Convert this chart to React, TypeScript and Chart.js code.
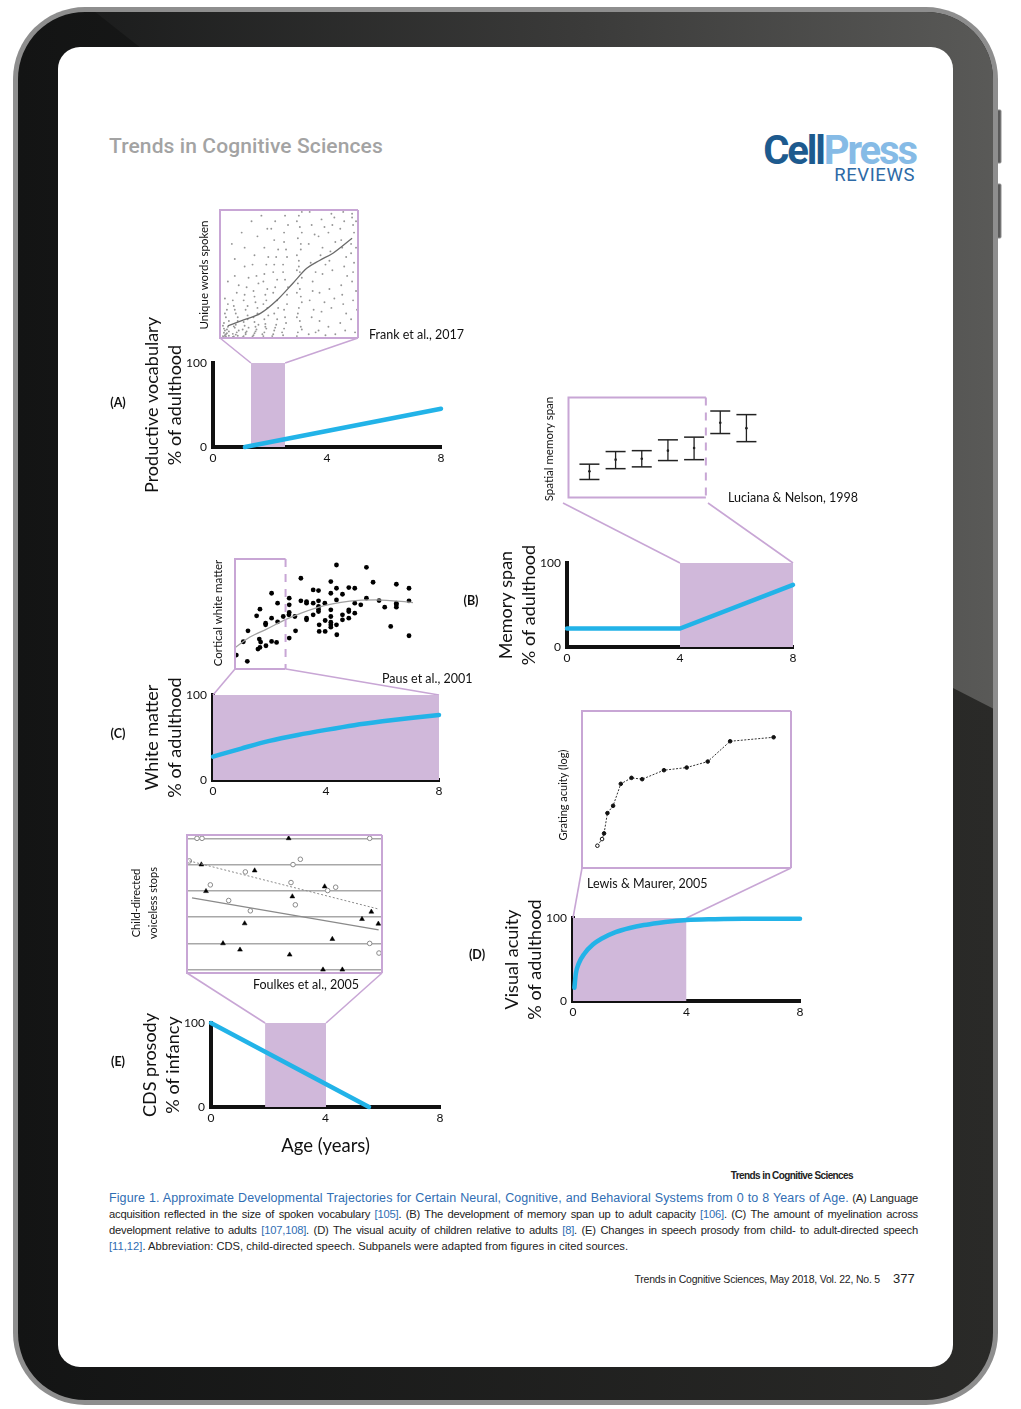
import React, { useEffect, useRef } from "react";
import { Chart, registerables } from "chart.js";

Chart.register(...registerables);

const FONT = "Lato, 'Open Sans', 'DejaVu Sans', sans-serif";
const SANS = "'Liberation Sans', Arial, sans-serif";
const BLUE = "#22b3e8";
const BAND = "#d0b8da";
const BOX_LINE = "#c8a6d5";
const AXIS = "#111111";

// ---------- main panel data (age in years, % of adulthood / infancy) ----------
const AGE_TICKS = [0, 4, 8];
const PCT_TICKS = [0, 100];

const VOCAB_AGE = [1.12, 8];
const VOCAB_PCT = [0, 45.5];
const VOCAB_BAND = [1.33, 2.53];

const MEMORY_AGE = [0, 4, 8];
const MEMORY_PCT = [22, 22, 74];
const MEMORY_BAND = [4, 8];

const MYELIN_AGE = [0, 1, 2, 3, 4, 5, 6, 7, 8];
const MYELIN_PCT = [27.5, 37, 46, 53, 59, 64.5, 69, 73, 76.5];
const MYELIN_BAND = [0, 8];

const ACUITY_AGE = [0.05, 0.1, 0.2, 0.4, 0.7, 1, 1.5, 2, 2.5, 3, 3.5, 4, 5, 6, 8];
const ACUITY_PCT = [16, 33, 45, 57, 68, 75, 83, 88, 91.5, 94, 96, 97.5, 98.5, 99, 99];
const ACUITY_BAND = [0, 4];

const PROSODY_AGE = [0, 5.52];
const PROSODY_PCT = [100, 0];
const PROSODY_BAND = [1.89, 4.02];

// ---------- inset data ----------
// (A) Frank et al. 2017: age (months) vs unique words spoken
const VOCAB_POINTS: [number, number][] = [
  [16.4, 5], [16.5, 15], [16.7, 25], [16.5, 40], [16.8, 60], [16.4, 80], [16.6, 110], [16.7, 150], [16.5, 210], [16.8, 300], [16.6, 20], [16.4, 50], [16.3, 10], [16.9, 35],
  [16.3, 3], [16.6, 8], [16.9, 12], [16.4, 28], [16.7, 45], [16.3, 65], [16.9, 90], [16.5, 130], [16.8, 180],
  [17.4, 8], [17.7, 30], [17.5, 55], [17.8, 90], [17.6, 130], [17.4, 170], [17.7, 240], [17.5, 330], [17.8, 12], [17.6, 70], [17.5, 420], [17.3, 22],
  [17.3, 5], [17.6, 18], [17.9, 40], [17.4, 62], [17.8, 110], [17.5, 150], [17.3, 200], [17.9, 280], [17.2, 500],
  [18.4, 10], [18.7, 35], [18.5, 65], [18.8, 100], [18.6, 150], [18.4, 200], [18.7, 270], [18.5, 380], [18.6, 20], [18.8, 120], [18.5, 480], [18.3, 45],
  [18.3, 4], [18.6, 28], [18.9, 55], [18.4, 85], [18.8, 170], [18.5, 230], [18.9, 320], [18.2, 560],
  [19.4, 15], [19.7, 45], [19.5, 85], [19.8, 130], [19.6, 190], [19.4, 250], [19.7, 330], [19.5, 440], [19.6, 60], [19.8, 540], [19.5, 25],
  [19.3, 8], [19.6, 35], [19.9, 70], [19.4, 110], [19.8, 160], [19.5, 220], [19.9, 290], [19.3, 390], [19.2, 620],
  [20.4, 10], [20.7, 50], [20.5, 100], [20.8, 160], [20.6, 230], [20.4, 300], [20.7, 390], [20.5, 480], [20.6, 75], [20.8, 580], [20.5, 30], [20.7, 200],
  [20.3, 20], [20.6, 60], [20.9, 120], [20.4, 180], [20.8, 260], [20.5, 340], [20.9, 430], [20.2, 650],
  [21.4, 20], [21.7, 70], [21.5, 130], [21.8, 200], [21.6, 270], [21.4, 350], [21.7, 430], [21.5, 520], [21.6, 620], [21.8, 100], [21.5, 40],
  [21.3, 10], [21.6, 55], [21.9, 160], [21.4, 240], [21.8, 310], [21.5, 390], [21.9, 470], [21.2, 580],
  [22.4, 15], [22.7, 80], [22.5, 150], [22.8, 230], [22.6, 310], [22.4, 390], [22.7, 470], [22.5, 560], [22.6, 650], [22.8, 180], [22.5, 50],
  [22.3, 30], [22.6, 110], [22.9, 270], [22.4, 350], [22.8, 430], [22.5, 510], [22.9, 600],
  [23.9, 30], [24.1, 90], [24.0, 160], [24.2, 220], [23.9, 290], [24.1, 350], [24.0, 410], [24.2, 470], [23.9, 530], [24.1, 590], [24.0, 650], [24.2, 60], [23.9, 130], [24.1, 260], [24.0, 380], [24.2, 500],
  [23.8, 10], [24.3, 45], [23.8, 110], [24.3, 190], [23.8, 240], [24.3, 320], [23.8, 440], [24.3, 560], [23.8, 620], [24.3, 670], [23.8, 360],
  [25.0, 20], [25.3, 110], [25.1, 200], [25.4, 300], [25.2, 400], [25.0, 500], [25.3, 600], [25.1, 670], [25.4, 250], [25.5, 150], [25.7, 350], [25.6, 550], [25.7, 30],
  [26.0, 40], [26.3, 140], [26.1, 240], [26.4, 340], [26.2, 440], [26.0, 540], [26.3, 630], [26.1, 90], [26.4, 480], [26.6, 190], [26.7, 390], [26.6, 590], [26.7, 15],
  [27.0, 60], [27.3, 160], [27.1, 260], [27.4, 360], [27.2, 460], [27.0, 560], [27.3, 660], [27.1, 410], [27.4, 600], [27.6, 210], [27.7, 510], [27.6, 640], [27.7, 20],
  [28.2, 80], [28.5, 180], [28.3, 280], [28.6, 380], [28.4, 480], [28.2, 580], [28.5, 670], [28.3, 520], [28.6, 620], [28.4, 230], [28.8, 130], [28.9, 330], [28.8, 430], [28.7, 40],
  [29.3, 100], [29.5, 200], [29.4, 300], [29.6, 400], [29.3, 500], [29.5, 600], [29.4, 660], [29.6, 560], [29.3, 450], [29.5, 350], [29.4, 640], [29.8, 250], [29.8, 480], [29.8, 620], [29.9, 150], [29.7, 30],
];
const VOCAB_FIT_MONTHS = [16.8, 18.4, 20.1, 21.8, 23.4, 24.8, 26.1, 27.5, 29.4];
const VOCAB_FIT_WORDS = [64, 96, 131, 202, 291, 370, 412, 452, 530];

// (B) Luciana & Nelson 1998: spatial memory span per age group
const SPAN_GROUP = [1, 2, 3, 4, 5, 6, 7];
const SPAN_MEAN = [4.6, 5.9, 6.0, 6.9, 7.2, 10.0, 9.4];
const SPAN_LOW = [3.7, 4.9, 5.1, 5.8, 5.9, 8.8, 7.9];
const SPAN_HIGH = [5.4, 6.8, 6.9, 8.1, 8.4, 11.3, 10.9];

// (C) Paus et al. 2001: cortical white matter (reading units)
const WM_X = [40.9, 44.2, 43.0, 44.4, 47.0, 48.0, 47.8, 48.2, 47.4, 48.0, 49.7, 49.7, 49.8, 51.5, 51.5, 51.5, 53.0, 53.3, 53.3, 55.0, 56.8, 56.8, 56.8, 56.7, 56.8, 58.5, 58.7, 60.3, 60.3, 62.0, 62.0, 62.0, 62.0, 64.0, 64.0, 64.0, 65.6, 65.6, 65.6, 65.6, 65.6, 65.8, 65.8, 67.5, 67.6, 67.6, 69.3, 69.3, 69.3, 69.3, 69.3, 69.3, 69.3, 71.0, 71.0, 71.0, 71.0, 71.1, 72.8, 72.8, 72.8, 74.7, 74.7, 74.7, 74.7, 76.5, 76.5, 76.5, 78.3, 80.0, 80.0, 82.0, 83.8, 85.5, 87.3, 89.0, 89.0, 89.0, 89.0, 92.8, 92.8, 92.8];
const WM_Y = [8.4, 6.5, 12.4, 15.7, 20.2, 22.2, 13.2, 12.3, 10.2, 10.7, 18.0, 17.5, 11.2, 27.0, 19.5, 12.5, 12.2, 24.0, 18.4, 20.0, 25.5, 23.5, 21.2, 20.5, 13.5, 20.0, 15.7, 31.5, 24.7, 24.5, 24.0, 19.5, 19.0, 28.0, 24.0, 20.5, 27.8, 24.7, 23.0, 22.2, 21.5, 17.5, 15.5, 24.0, 18.8, 15.5, 30.5, 27.0, 22.0, 20.0, 18.3, 17.5, 16.8, 35.5, 28.5, 25.0, 17.5, 14.5, 26.7, 20.5, 19.0, 28.7, 22.0, 21.5, 19.5, 28.5, 24.0, 21.0, 23.5, 34.8, 25.5, 30.3, 24.8, 22.8, 17.0, 29.7, 24.0, 23.5, 22.8, 28.5, 24.7, 14.2];
const WM_FIT_X = [40.5, 45, 50, 56, 65, 75, 83, 94];
const WM_FIT_Y = [10.6, 13.8, 16.2, 19.2, 22.6, 24.6, 25.0, 24.2];

// (D) Lewis & Maurer 2005: grating acuity (log, reading units)
const GRATING_X = [41.3, 42.7, 43.3, 44.3, 46.0, 48.3, 51.5, 54.7, 61.2, 68.0, 74.3, 81.0, 94.0];
const GRATING_Y = [6.2, 8.2, 9.9, 16.0, 18.2, 24.8, 26.6, 26.2, 28.9, 29.7, 31.5, 37.6, 38.8];

// (E) Foulkes et al. 2005: child-directed voiceless stops
const VOT_CIRCLES: [number, number][] = [[29, 40.5], [30.5, 40.5], [80.8, 40.5], [26.7, 33.7], [57.8, 32.6], [60, 34.2], [43.5, 30.4], [33, 26.5], [57.2, 27.2], [68.2, 24.8], [70.6, 25.8], [38.5, 21.8], [58.5, 20.5], [45, 18.7], [80.8, 8.9], [83.6, 6]];
const VOT_TRIANGLES: [number, number][] = [[56.5, 40.5], [30.3, 32.6], [46.3, 30.8], [31.7, 24.6], [67.3, 26], [57.6, 23], [81.3, 18.4], [78.5, 16.2], [83.4, 14.8], [43.3, 14.9], [69.6, 10.2], [36.8, 8.9], [41.9, 7], [56.8, 5.5], [66.8, 1], [72.6, 1]];
const VOT_DOTTED_FIT: [number, number][] = [[26.7, 33.7], [83.6, 19.2]];
const VOT_SOLID_FIT: [number, number][] = [[27.5, 22.6], [83.5, 13]];
const VOT_GRID = [1, 8.8, 16.8, 24.7, 32.5, 40.5];

// ---------- helpers ----------
type Area = { l: number; t: number; r: number; b: number };
type Rect = { x: number; y: number; w: number; h: number };

const pts = (xs: number[], ys: number[]) => xs.map((x, i) => ({ x, y: ys[i] }));
const pairs = (p: [number, number][]) => p.map(([x, y]) => ({ x, y }));

function ChartCanvas({ rect, make }: { rect: Rect; make: () => any }) {
  const ref = useRef<HTMLCanvasElement>(null);
  useEffect(() => {
    const chart = new Chart(ref.current as HTMLCanvasElement, make());
    return () => chart.destroy();
  }, []);
  return (
    <canvas
      ref={ref}
      width={rect.w}
      height={rect.h}
      style={{ position: "absolute", left: rect.x, top: rect.y, width: rect.w, height: rect.h }}
    />
  );
}

const MAIN_Y_W = 72;

interface MainSpec {
  canvas: Rect;
  area: Area;
  line: { x: number; y: number }[];
  smooth?: boolean;
  band: number[];
  yTitle: string[];
  xTitle?: string;
  xAxisH: number;
  from: [number, number][];
}

function mainConfig(s: MainSpec) {
  const padding = {
    left: s.area.l - s.canvas.x - MAIN_Y_W,
    top: s.area.t - s.canvas.y,
    right: s.canvas.x + s.canvas.w - s.area.r,
    bottom: s.canvas.y + s.canvas.h - s.area.b - s.xAxisH,
  };
  const connectors = {
    id: "connectors",
    beforeDatasetsDraw(chart: any) {
      const { ctx, chartArea } = chart;
      const xs = chart.scales.x;
      const tx = [xs.getPixelForValue(s.band[0]), xs.getPixelForValue(s.band[1])];
      ctx.save();
      ctx.strokeStyle = BOX_LINE;
      ctx.lineWidth = 1.6;
      s.from.forEach(([fx, fy], i) => {
        ctx.beginPath();
        ctx.moveTo(fx - s.canvas.x, fy - s.canvas.y);
        ctx.lineTo(tx[i], chartArea.top);
        ctx.stroke();
      });
      ctx.restore();
    },
  };
  const tickFont = { family: FONT, size: 12 };
  return {
    type: "line",
    data: {
      datasets: [
        {
          data: s.line,
          borderColor: BLUE,
          borderWidth: 4.5,
          pointRadius: 0,
          fill: false,
          cubicInterpolationMode: s.smooth ? "monotone" : "default",
          tension: 0,
          clip: false,
          borderCapStyle: "round",
        },
        {
          data: [
            { x: s.band[0], y: 100 },
            { x: s.band[1], y: 100 },
          ],
          borderColor: "rgba(0,0,0,0)",
          borderWidth: 0,
          backgroundColor: BAND,
          fill: "origin",
          pointRadius: 0,
        },
      ],
    },
    options: {
      animation: false,
      responsive: false,
      devicePixelRatio: 1,
      events: [],
      layout: { padding },
      plugins: { legend: { display: false }, tooltip: { enabled: false } },
      scales: {
        x: {
          type: "linear",
          min: 0,
          max: 8,
          afterBuildTicks: (sc: any) => {
            sc.ticks = AGE_TICKS.map((v) => ({ value: v }));
          },
          afterFit: (sc: any) => {
            sc.height = s.xAxisH;
          },
          ticks: { font: tickFont, color: AXIS, padding: 4, maxRotation: 0, autoSkip: false },
          grid: { display: false, drawTicks: false },
          border: { display: true, width: 4, color: AXIS },
          title: s.xTitle
            ? { display: true, text: s.xTitle, font: { family: FONT, size: 18.5, lineHeight: 1.2 }, color: AXIS, padding: 0 }
            : { display: false },
        },
        y: {
          type: "linear",
          min: 0,
          max: 100,
          afterBuildTicks: (sc: any) => {
            sc.ticks = PCT_TICKS.map((v) => ({ value: v }));
          },
          afterFit: (sc: any) => {
            sc.width = MAIN_Y_W;
          },
          ticks: { font: tickFont, color: AXIS, padding: 6 },
          grid: { display: false, drawTicks: false },
          border: { display: true, width: 4, color: AXIS },
          title: { display: true, text: s.yTitle, font: { family: FONT, size: 18, lineHeight: 1.25 }, color: AXIS, padding: 0 },
        },
      },
    },
    plugins: [connectors],
  };
}

const INSET_M = 6;
interface InsetSpec {
  area: Area;
  x: [number, number];
  y: [number, number];
  datasets: any[];
  box: { x0: number; x1: number; dash?: boolean };
  grid?: number[];
}
const insetRect = (a: Area): Rect => ({ x: a.l - INSET_M, y: a.t - INSET_M, w: a.r - a.l + 2 * INSET_M, h: a.b - a.t + 2 * INSET_M });

function insetConfig(o: InsetSpec) {
  const boxPlugin = {
    id: "insetBox",
    afterDatasetsDraw(chart: any) {
      const { ctx, chartArea } = chart;
      const xs = chart.scales.x;
      const x0 = xs.getPixelForValue(o.box.x0);
      const x1 = xs.getPixelForValue(o.box.x1);
      const { top, bottom } = chartArea;
      ctx.save();
      ctx.strokeStyle = BOX_LINE;
      ctx.lineWidth = 2;
      ctx.beginPath();
      ctx.moveTo(x1, top);
      ctx.lineTo(x0, top);
      ctx.lineTo(x0, bottom);
      ctx.lineTo(x1, bottom);
      ctx.stroke();
      if (o.box.dash) ctx.setLineDash([8, 7]);
      ctx.beginPath();
      ctx.moveTo(x1, top);
      ctx.lineTo(x1, bottom);
      ctx.stroke();
      ctx.restore();
    },
  };
  const yScale: any = o.grid
    ? {
        type: "linear",
        min: o.y[0],
        max: o.y[1],
        display: true,
        afterBuildTicks: (sc: any) => {
          sc.ticks = (o.grid as number[]).map((v) => ({ value: v }));
        },
        afterFit: (sc: any) => {
          sc.width = 0;
        },
        ticks: { display: false },
        grid: { color: "#a8a8a8", lineWidth: 1.5, drawTicks: false },
        border: { display: false },
      }
    : { type: "linear", min: o.y[0], max: o.y[1], display: false };
  return {
    type: "scatter",
    data: { datasets: o.datasets },
    options: {
      animation: false,
      responsive: false,
      devicePixelRatio: 1,
      events: [],
      layout: { padding: INSET_M },
      plugins: { legend: { display: false }, tooltip: { enabled: false } },
      scales: {
        x: { type: "linear", min: o.x[0], max: o.x[1], display: false },
        y: yScale,
      },
    },
    plugins: [boxPlugin],
  };
}

// ---------- panel specs ----------
const MAIN_A: MainSpec = {
  canvas: { x: 100, y: 300, w: 380, h: 200 },
  area: { l: 213, t: 363, r: 441, b: 447 },
  line: pts(VOCAB_AGE, VOCAB_PCT),
  band: VOCAB_BAND,
  yTitle: ["Productive vocabulary", "% of adulthood"],
  xAxisH: 20,
  from: [[220, 338], [358, 338]],
};
const MAIN_B: MainSpec = {
  canvas: { x: 470, y: 495, w: 400, h: 180 },
  area: { l: 567, t: 563, r: 793, b: 647 },
  line: pts(MEMORY_AGE, MEMORY_PCT),
  band: MEMORY_BAND,
  yTitle: ["Memory span", "% of adulthood"],
  xAxisH: 20,
  from: [[563, 503], [708, 503]],
};
const MAIN_C: MainSpec = {
  canvas: { x: 100, y: 660, w: 380, h: 150 },
  area: { l: 213, t: 695, r: 439, b: 780 },
  line: pts(MYELIN_AGE, MYELIN_PCT),
  smooth: true,
  band: MYELIN_BAND,
  yTitle: ["White matter", "% of adulthood"],
  xAxisH: 20,
  from: [[235, 669], [286, 669]],
};
const MAIN_D: MainSpec = {
  canvas: { x: 470, y: 860, w: 400, h: 170 },
  area: { l: 573, t: 918, r: 800, b: 1001 },
  line: pts(ACUITY_AGE, ACUITY_PCT),
  smooth: true,
  band: ACUITY_BAND,
  yTitle: ["Visual acuity", "% of adulthood"],
  xAxisH: 20,
  from: [[582, 868], [791, 868]],
};
const MAIN_E: MainSpec = {
  canvas: { x: 100, y: 965, w: 380, h: 200 },
  area: { l: 211, t: 1023, r: 440, b: 1107 },
  line: pts(PROSODY_AGE, PROSODY_PCT),
  band: PROSODY_BAND,
  yTitle: ["CDS prosody", "% of infancy"],
  xTitle: "Age (years)",
  xAxisH: 50,
  from: [[187, 973], [382, 973]],
};

const INSET_A: InsetSpec = {
  area: { l: 220, t: 210, r: 358, b: 338 },
  x: [16, 30],
  y: [0, 680],
  box: { x0: 16, x1: 30 },
  datasets: [
    {
      type: "line",
      data: pts(VOCAB_FIT_MONTHS, VOCAB_FIT_WORDS),
      borderColor: "#6b6b6b",
      borderWidth: 1.3,
      pointRadius: 0,
      cubicInterpolationMode: "monotone",
      clip: false,
    },
    { data: pairs(VOCAB_POINTS), pointRadius: 0.95, backgroundColor: "#959595", borderWidth: 0, clip: false },
  ],
};

const SPAN_SEGMENTS = SPAN_GROUP.flatMap((g, i) => [
  { x: g, y: SPAN_LOW[i] },
  { x: g, y: SPAN_HIGH[i] },
  { x: g, y: null },
]);
const INSET_B: InsetSpec = {
  area: { l: 563, t: 392, r: 765, b: 503 },
  x: [0.2, 7.5],
  y: [1.7, 12.8],
  box: { x0: 0.2, x1: 5.45, dash: true },
  datasets: [
    { type: "line", data: SPAN_SEGMENTS, borderColor: "#222", borderWidth: 1.3, pointRadius: 0, spanGaps: false, clip: false },
    {
      data: [...pts(SPAN_GROUP, SPAN_LOW), ...pts(SPAN_GROUP, SPAN_HIGH)],
      pointStyle: "line",
      pointRadius: 10,
      borderColor: "#222",
      borderWidth: 1.5,
      clip: false,
    },
    { data: pts(SPAN_GROUP, SPAN_MEAN), pointRadius: 1.3, backgroundColor: "#222", borderWidth: 0, clip: false },
  ],
};

const INSET_C: InsetSpec = {
  area: { l: 235, t: 559, r: 413, b: 669 },
  x: [40.5, 94],
  y: [4.2, 37.3],
  box: { x0: 40.5, x1: 55.7, dash: true },
  datasets: [
    {
      type: "line",
      data: pts(WM_FIT_X, WM_FIT_Y),
      borderColor: "#a0a0a0",
      borderWidth: 1.2,
      pointRadius: 0,
      cubicInterpolationMode: "monotone",
      clip: false,
    },
    { data: pts(WM_X, WM_Y), pointRadius: 2.4, backgroundColor: "#000", borderWidth: 0, clip: false },
  ],
};

const INSET_D: InsetSpec = {
  area: { l: 582, t: 711, r: 791, b: 868 },
  x: [36.7, 99.2],
  y: [-0.5, 46.7],
  box: { x0: 36.7, x1: 99.2 },
  datasets: [
    {
      type: "line",
      data: pts(GRATING_X, GRATING_Y),
      borderColor: "#333",
      borderWidth: 1,
      borderDash: [2, 1.5],
      pointRadius: 1.8,
      pointBackgroundColor: GRATING_X.map((_, i) => (i < 2 ? "#ffffff" : "#111111")),
      pointBorderColor: "#111",
      pointBorderWidth: 1,
      clip: false,
    },
  ],
};

const INSET_E: InsetSpec = {
  area: { l: 187, t: 835, r: 382, b: 973 },
  x: [26, 84.5],
  y: [0, 41.5],
  box: { x0: 26, x1: 84.5 },
  grid: VOT_GRID,
  datasets: [
    { type: "line", data: pairs(VOT_DOTTED_FIT), borderColor: "#8a8a8a", borderWidth: 1, borderDash: [2, 2], pointRadius: 0, clip: false },
    { type: "line", data: pairs(VOT_SOLID_FIT), borderColor: "#8a8a8a", borderWidth: 1.3, pointRadius: 0, clip: false },
    { data: pairs(VOT_CIRCLES), pointRadius: 2.3, backgroundColor: "#fff", borderColor: "#8a8a8a", borderWidth: 1, clip: false },
    { data: pairs(VOT_TRIANGLES), pointStyle: "triangle", pointRadius: 2.8, backgroundColor: "#000", borderColor: "#000", borderWidth: 0.5, clip: false },
  ],
};

// ---------- text helper ----------
function Txt(props: {
  x: number;
  y: number;
  size?: number;
  family?: string;
  weight?: number;
  color?: string;
  align?: "left" | "center" | "right";
  rotate?: boolean;
  spacing?: number;
  children: React.ReactNode;
}) {
  const { x, y, size = 12, family = FONT, weight = 400, color = "#111", align = "left", rotate = false, spacing = 0 } = props;
  const tx = rotate ? "-50%" : align === "left" ? "0" : align === "center" ? "-50%" : "-100%";
  return (
    <div
      style={{
        position: "absolute",
        left: x,
        top: y,
        fontFamily: family,
        fontSize: size,
        fontWeight: weight,
        color,
        letterSpacing: spacing,
        whiteSpace: "pre",
        lineHeight: 1,
        transform: `translate(${tx}, -50%)${rotate ? " rotate(-90deg)" : ""}`,
      }}
    >
      {props.children}
    </div>
  );
}

function Frame() {
  return (
    <svg width={1021} height={1409} style={{ position: "absolute", left: 0, top: 0 }}>
      <defs>
        <clipPath id="bodyClip">
          <rect x={18} y={12} width={975} height={1388} rx={67} />
        </clipPath>
        <linearGradient id="bodyGrad" gradientUnits="userSpaceOnUse" x1={18} y1={0} x2={993} y2={0}>
          <stop offset="0" stopColor="#131414" />
          <stop offset="1" stopColor="#2a2a28" />
        </linearGradient>
        <linearGradient id="glare" gradientUnits="userSpaceOnUse" x1={80} y1={0} x2={1000} y2={0}>
          <stop offset="0" stopColor="#1b1c1c" />
          <stop offset="0.55" stopColor="#3b3b3a" />
          <stop offset="1" stopColor="#5a5a58" />
        </linearGradient>
      </defs>
      <rect x={996} y={110} width={5} height={53} rx={1} fill="#5a5a5a" stroke="#8e8e8e" strokeWidth={1} />
      <rect x={996} y={184} width={5} height={54} rx={1} fill="#5a5a5a" stroke="#8e8e8e" strokeWidth={1} />
      <rect x={13} y={7} width={985} height={1398} rx={72} fill="#8e8e8e" />
      <rect x={18} y={12} width={975} height={1388} rx={67} fill="url(#bodyGrad)" />
      <polygon points="80,0 1021,0 1021,716 1000,712 953,688" fill="url(#glare)" clipPath="url(#bodyClip)" />
      <rect x={58} y={47} width={895} height={1320} rx={22} fill="#ffffff" />
    </svg>
  );
}

const CAP_BLUE = "#2f6db3";
const CAP_BLACK = "#222";

export default function App() {
  const lineStyle: React.CSSProperties = { textAlign: "justify", textAlignLast: "justify", whiteSpace: "normal", height: 16, overflow: "visible" };
  const b = (t: string) => <span style={{ color: CAP_BLUE }}>{t}</span>;
  return (
    <div style={{ position: "absolute", left: 0, top: 0, width: 1021, height: 1409, overflow: "hidden", background: "#fff" }}>
      <Frame />

      {/* header */}
      <Txt x={109} y={146} size={21} family="Roboto, sans-serif" weight={500} color="#a3a3a3" spacing={0.1}>
        Trends in Cognitive Sciences
      </Txt>
      <Txt x={916} y={151} size={40} family="Roboto, sans-serif" weight={700} align="right" spacing={-2.1}>
        <span style={{ color: "#1d5a8e" }}>Cell</span>
        <span style={{ color: "#86bbe6" }}>Press</span>
      </Txt>
      <Txt x={915} y={175} size={18.5} family="Roboto, sans-serif" weight={400} align="right" color="#2d6aa6" spacing={0.6}>
        REVIEWS
      </Txt>

      {/* main charts */}
      <ChartCanvas rect={MAIN_A.canvas} make={() => mainConfig(MAIN_A)} />
      <ChartCanvas rect={MAIN_B.canvas} make={() => mainConfig(MAIN_B)} />
      <ChartCanvas rect={MAIN_C.canvas} make={() => mainConfig(MAIN_C)} />
      <ChartCanvas rect={MAIN_D.canvas} make={() => mainConfig(MAIN_D)} />
      <ChartCanvas rect={MAIN_E.canvas} make={() => mainConfig(MAIN_E)} />

      {/* insets */}
      <ChartCanvas rect={insetRect(INSET_A.area)} make={() => insetConfig(INSET_A)} />
      <ChartCanvas rect={insetRect(INSET_B.area)} make={() => insetConfig(INSET_B)} />
      <ChartCanvas rect={insetRect(INSET_C.area)} make={() => insetConfig(INSET_C)} />
      <ChartCanvas rect={insetRect(INSET_D.area)} make={() => insetConfig(INSET_D)} />
      <ChartCanvas rect={insetRect(INSET_E.area)} make={() => insetConfig(INSET_E)} />

      {/* panel letters */}
      <Txt x={118} y={403} size={12.5} weight={700} align="center">(A)</Txt>
      <Txt x={471} y={601} size={12.5} weight={700} align="center">(B)</Txt>
      <Txt x={118} y={734} size={12.5} weight={700} align="center">(C)</Txt>
      <Txt x={477} y={955} size={12.5} weight={700} align="center">(D)</Txt>
      <Txt x={118} y={1062} size={12.5} weight={700} align="center">(E)</Txt>

      {/* inset labels and sources */}
      <Txt x={204} y={275} size={11.5} rotate>Unique words spoken</Txt>
      <Txt x={369} y={335} size={12.5}>Frank et al., 2017</Txt>
      <Txt x={549} y={449} size={11.5} rotate>Spatial memory span</Txt>
      <Txt x={728} y={498} size={12.5}>Luciana &amp; Nelson, 1998</Txt>
      <Txt x={218} y={613} size={11.5} rotate>Cortical white matter</Txt>
      <Txt x={382} y={679} size={12.5}>Paus et al., 2001</Txt>
      <Txt x={562} y={795} size={11} rotate>Grating acuity (log)</Txt>
      <Txt x={587} y={884} size={12.5}>Lewis &amp; Maurer, 2005</Txt>
      <Txt x={135} y={903} size={11} rotate>Child-directed</Txt>
      <Txt x={152} y={903} size={11} rotate>voiceless stops</Txt>
      <Txt x={253} y={985} size={12.5}>Foulkes et al., 2005</Txt>

      {/* caption */}
      <Txt x={853} y={1176} size={10} family={SANS} weight={700} align="right" spacing={-0.6} color="#222">
        Trends in Cognitive Sciences
      </Txt>
      <div
        style={{
          position: "absolute",
          left: 109,
          top: 1190,
          width: 809,
          fontFamily: SANS,
          fontSize: 11.2,
          lineHeight: "16px",
          letterSpacing: -0.2,
          color: CAP_BLACK,
        }}
      >
        <div style={lineStyle}>
          <span style={{ color: CAP_BLUE, fontSize: 12.5, letterSpacing: 0.1 }}>
            Figure 1. Approximate Developmental Trajectories for Certain Neural, Cognitive, and Behavioral Systems from 0 to 8 Years of Age.
          </span>{" "}
          (A) Language
        </div>
        <div style={lineStyle}>
          acquisition reflected in the size of spoken vocabulary {b("[105]")}. (B) The development of memory span up to adult capacity {b("[106]")}. (C) The amount of myelination across
        </div>
        <div style={lineStyle}>
          development relative to adults {b("[107,108]")}. (D) The visual acuity of children relative to adults {b("[8]")}. (E) Changes in speech prosody from child- to adult-directed speech
        </div>
        <div style={{ whiteSpace: "nowrap", letterSpacing: 0 }}>
          {b("[11,12]")}. Abbreviation: CDS, child-directed speech. Subpanels were adapted from figures in cited sources.
        </div>
      </div>
      <Txt x={880} y={1279} size={10.5} family={SANS} align="right" spacing={-0.2} color="#222">
        Trends in Cognitive Sciences, May 2018, Vol. 22, No. 5
      </Txt>
      <Txt x={893} y={1278} size={13} family={SANS} color="#222">377</Txt>
    </div>
  );
}
